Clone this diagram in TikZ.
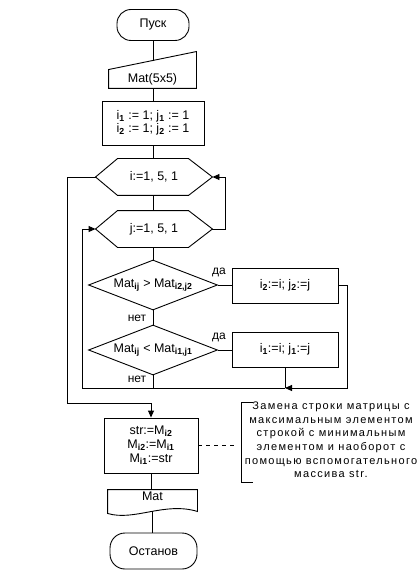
\documentclass[tikz,border=0pt]{standalone}
\usepackage{fontspec}
\setmainfont{Liberation Sans}
\newfontfamily\cmtfont[LetterSpace=12]{Liberation Sans}
\usetikzlibrary{arrows.meta,shapes.geometric,calc}
\newcommand\sbx[1]{\textsubscript{\bfseries #1}}
\begin{document}
\begin{tikzpicture}[x=1pt,y=-1pt, line width=0.9pt,
  every node/.style={font=\fontsize{12.5}{13}\selectfont, inner sep=0pt},
  term/.style={draw, rounded corners=14pt, minimum width=72pt, minimum height=31pt},
  proc/.style={draw, rectangle, align=center},
  plain/.style={rectangle},
  dec/.style={draw, diamond, shape aspect=2.6, minimum width=129pt, minimum height=50pt},
  arr/.style={-{Triangle[length=7pt,width=6pt]}},
  lbl/.style={font=\fontsize{12}{13}\selectfont},
  cmt/.style={font=\cmtfont\fontsize{11}{13.6}\selectfont, align=center}
]
\useasboundingbox (0,0) rectangle (419,577);

% start
\node[term] (start) at (153,25) {Пуск};
% manual input
\node[plain, minimum width=87pt, minimum height=18pt] (inp) at (152.5,79) {Mat(5x5)};
\draw (inp.north west) -- ($(inp.north east)+(0,-18)$) -- (inp.south east) -- (inp.south west) -- cycle;
\coordinate (inpin) at (153,61);
\draw (start.south) -- (inpin);
% init
\node[proc, minimum width=102pt, minimum height=44pt] (init) at (153,123)
  {i\sbx{1} := 1; j\sbx{1} := 1\\ i\sbx{2} := 1; j\sbx{2} := 1};
\draw (inp.south -| init.north) -- (init.north);
% hexagons
\node[plain, minimum width=116pt, minimum height=36pt] (hi) at (154,177) {i:=1, 5, 1};
\draw (hi.west) -- ($(hi.north west)+(22,0)$) -- ($(hi.north east)+(-24,0)$) -- (hi.east)
  -- ($(hi.south east)+(-24,0)$) -- ($(hi.south west)+(22,0)$) -- cycle;
\node[plain, minimum width=116pt, minimum height=36pt] (hj) at (154,229) {j:=1, 5, 1};
\draw (hj.west) -- ($(hj.north west)+(22,0)$) -- ($(hj.north east)+(-24,0)$) -- (hj.east)
  -- ($(hj.south east)+(-24,0)$) -- ($(hj.south west)+(22,0)$) -- cycle;
\draw (init.south) -- (init.south |- hi.north);
\draw (init.south |- hi.south) -- (init.south |- hj.north);
% decisions
\node[dec] (d1) at (153,285) {Mat\sbx{ij} > Mat\sbx{i2,j2}};
\node[dec] (d2) at (153,350) {Mat\sbx{ij} < Mat\sbx{i1,j1}};
\draw (init.south |- hj.south) -- (d1.north);
\draw (d1.south) -- (d2.north);
% yes boxes
\node[proc, minimum width=106pt, minimum height=35pt] (b2) at (285,285.5) {i\sbx{2}:=i; j\sbx{2}:=j};
\node[proc, minimum width=106pt, minimum height=35pt] (b1) at (285,349.5) {i\sbx{1}:=i; j\sbx{1}:=j};
\draw (d1.east) -- (d1.east -| b2.west);
\draw (d2.east) -- (d2.east -| b1.west);
\node[lbl] (da1) at (219,272) {да};
\node[lbl] (da2) at (219,337) {да};
\node[lbl] (net1) at (137,318) {нет};
\node[lbl] (net2) at (137,379) {нет};
% loop returns
\draw[arr] (hj.east) -- ++(13,0) |- (hi.east);
\coordinate (jn) at (285,388);
\coordinate (il) at (82,388);
\draw (b1.south) -- (jn);
\draw[arr] (b2.east) -- ++(9,0) |- (jn);
\draw[arr] (jn) -- (il) |- (hj.west);
\draw (d2.south) -- (d2.south |- il);
% final process
\node[proc, minimum width=94pt, minimum height=55pt, font=\fontsize{12.5}{14}\selectfont] (fin) at (151,445.5)
  {str:=M\sbx{i2}\\ M\sbx{i2}:=M\sbx{i1}\\ M\sbx{i1}:=str};
\coordinate (ol) at (67,403);
\draw[arr] (hi.west) -| (ol) -| (fin.north);
% comment
\coordinate (brk) at (237,445.5);
\draw[dashed, dash pattern=on 4pt off 4pt] (fin.east) -- (brk);
\coordinate (bt) at (241,402);
\coordinate (bb) at (241,482);
\draw ($(bt)+(12,0)$) -- (bt) -- (bb) -- ($(bb)+(12,0)$);
\node[cmt] (cmt) at (331,440) {Замена строки матрицы с\\ максимальным элементом\\ строкой с минимальным\\ элементом и наоборот с\\ помощью вспомогательного\\ массива str.};
% document
\node[plain, minimum width=89pt, minimum height=12pt] (doc) at (152.5,496) {Mat};
\draw (doc.north west) -- (doc.north east) -- ($(doc.south east)+(0,9)$)
  .. controls ($(doc.south)+(12,-1)$) and ($(doc.south)+(-18,19)$) .. ($(doc.south west)+(0,11)$) -- cycle;
\draw (fin.south) -- (fin.south |- doc.north);
\coordinate (docout) at (152,511);
% stop
\node[term, minimum width=87pt, minimum height=36pt, rounded corners=15pt] (stop) at (153.5,551) {Останов};
\draw (docout) -- (docout |- stop.north);
\end{tikzpicture}
\end{document}
